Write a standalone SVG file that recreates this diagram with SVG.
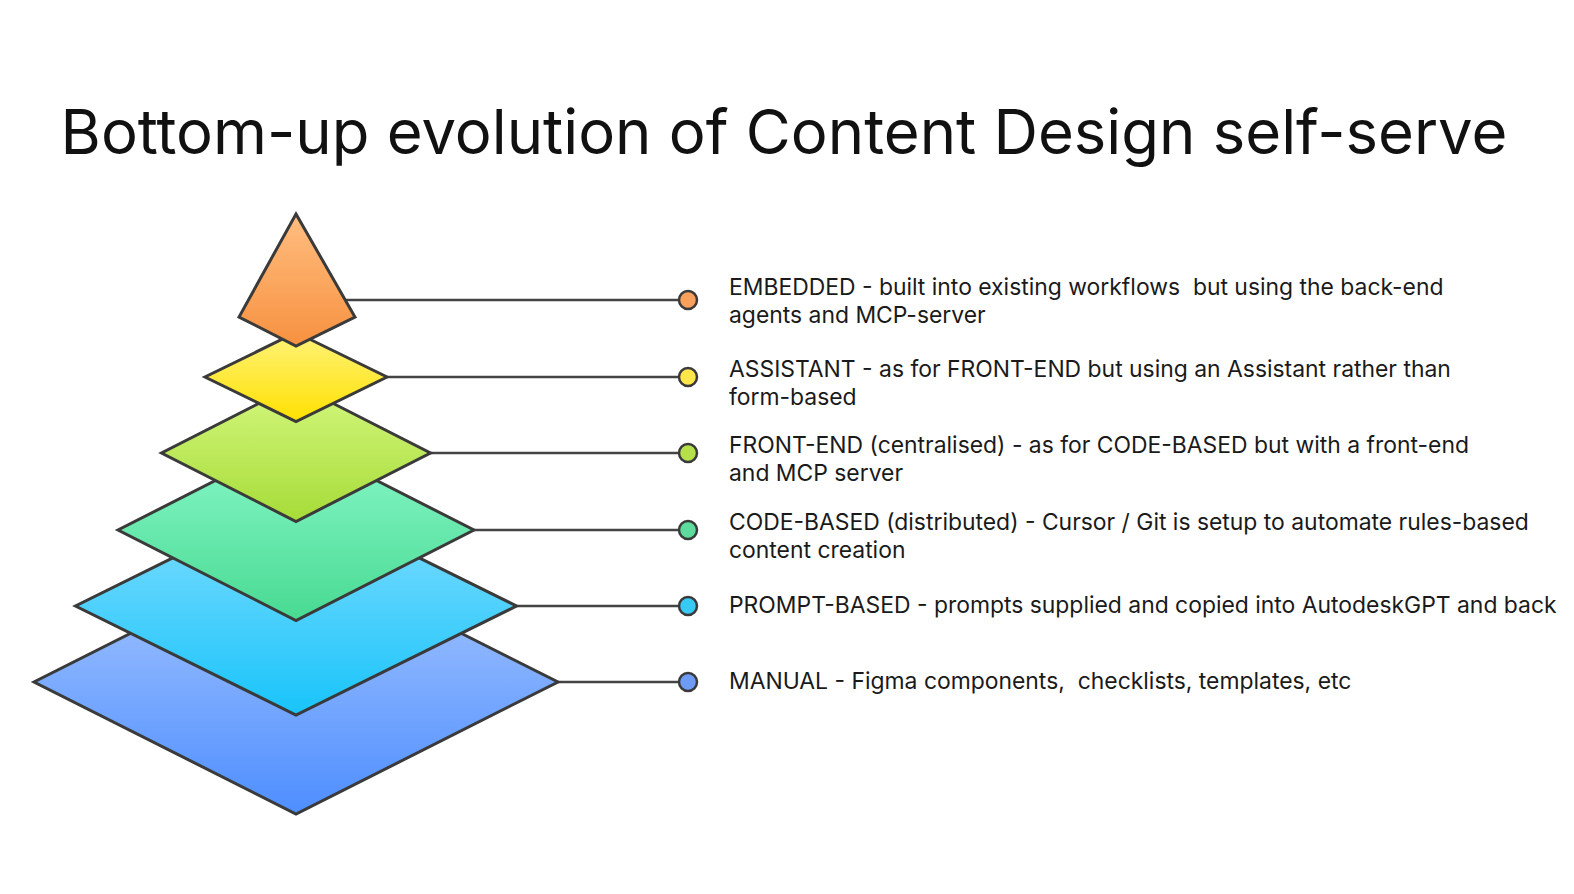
<svg xmlns="http://www.w3.org/2000/svg" width="1574" height="894" viewBox="0 0 1574 894">
<defs>
<linearGradient id="gOrange" x1="0" y1="0" x2="0" y2="1"><stop offset="0" stop-color="#FFBE80"/><stop offset="1" stop-color="#F79140"/></linearGradient>
<linearGradient id="gYellow" x1="0" y1="0" x2="0" y2="1"><stop offset="0" stop-color="#FFF27A"/><stop offset="1" stop-color="#FFE100"/></linearGradient>
<linearGradient id="gLime" x1="0" y1="0" x2="0" y2="1"><stop offset="0" stop-color="#D4F77E"/><stop offset="1" stop-color="#A6DC38"/></linearGradient>
<linearGradient id="gGreen" x1="0" y1="0" x2="0" y2="1"><stop offset="0" stop-color="#8AF8CA"/><stop offset="1" stop-color="#48DA92"/></linearGradient>
<linearGradient id="gCyan" x1="0" y1="0" x2="0" y2="1"><stop offset="0" stop-color="#86DEFF"/><stop offset="1" stop-color="#18C4FA"/></linearGradient>
<linearGradient id="gBlue" x1="0" y1="0" x2="0" y2="1"><stop offset="0" stop-color="#ABC9FF"/><stop offset="1" stop-color="#4E8EFF"/></linearGradient>
</defs>
<style>
.shape{stroke:#3a3a3a;stroke-width:3;stroke-linejoin:miter}
.dot{stroke:#3a3a3a;stroke-width:2.5}
.conn{stroke:#444444;stroke-width:2.5;fill:none}
.lbl{font-family:Inter,"Liberation Sans",sans-serif;font-size:22.9px;fill:#1a1a1a;white-space:pre}
.title{font-family:Inter,"Liberation Sans",sans-serif;font-size:61.6px;fill:#111111}
</style>
<rect width="1574" height="894" fill="#ffffff"/>
<text class="title" x="784" y="154" text-anchor="middle">Bottom-up evolution of Content Design self-serve</text>
<g id="connectors">
<line class="conn" x1="345" y1="300" x2="679" y2="300"/>
<line class="conn" x1="387" y1="377" x2="679" y2="377"/>
<line class="conn" x1="430" y1="453" x2="679" y2="453"/>
<line class="conn" x1="474" y1="530" x2="679" y2="530"/>
<line class="conn" x1="516" y1="606" x2="679" y2="606"/>
<line class="conn" x1="558" y1="682" x2="679" y2="682"/>
</g>
<g id="manual">
<polygon class="shape" fill="url(#gBlue)" points="296,550 558,682 296,814 34,682"/>
<circle class="dot" cx="688" cy="682" r="9" fill="#6E9BF5"/>
<text class="lbl" x="729" y="689" xml:space="preserve">MANUAL - Figma components,  checklists, templates, etc</text>
</g>
<g id="prompt-based">
<polygon class="shape" fill="url(#gCyan)" points="296,497 516.5,606 296,715 75.5,606"/>
<circle class="dot" cx="688" cy="606" r="9" fill="#38C9F5"/>
<text class="lbl" x="729" y="613">PROMPT-BASED - prompts supplied and copied into AutodeskGPT and back</text>
</g>
<g id="code-based">
<polygon class="shape" fill="url(#gGreen)" points="296,439.5 474,530 296,620.5 118,530"/>
<circle class="dot" cx="688" cy="530" r="9" fill="#5EDC9E"/>
<text class="lbl" x="729" y="530">CODE-BASED (distributed) - Cursor / Git is setup to automate rules-based</text>
<text class="lbl" x="729" y="558">content creation</text>
</g>
<g id="front-end">
<polygon class="shape" fill="url(#gLime)" points="296,384.5 430.5,453 296,521.5 161.5,453"/>
<circle class="dot" cx="688" cy="453" r="9" fill="#B5E04A"/>
<text class="lbl" x="729" y="453">FRONT-END (centralised) - as for CODE-BASED but with a front-end</text>
<text class="lbl" x="729" y="481">and MCP server</text>
</g>
<g id="assistant">
<polygon class="shape" fill="url(#gYellow)" points="296,332.5 387,377 296,421.5 205,377"/>
<circle class="dot" cx="688" cy="377" r="9" fill="#FFE64A"/>
<text class="lbl" x="729" y="377">ASSISTANT - as for FRONT-END but using an Assistant rather than</text>
<text class="lbl" x="729" y="405">form-based</text>
</g>
<g id="embedded">
<polygon class="shape" fill="url(#gOrange)" points="296,214 355,317 296,346 239,317"/>
<circle class="dot" cx="688" cy="300" r="9" fill="#F8A05C"/>
<text class="lbl" x="729" y="295" xml:space="preserve">EMBEDDED - built into existing workflows  but using the back-end</text>
<text class="lbl" x="729" y="323">agents and MCP-server</text>
</g>
</svg>
